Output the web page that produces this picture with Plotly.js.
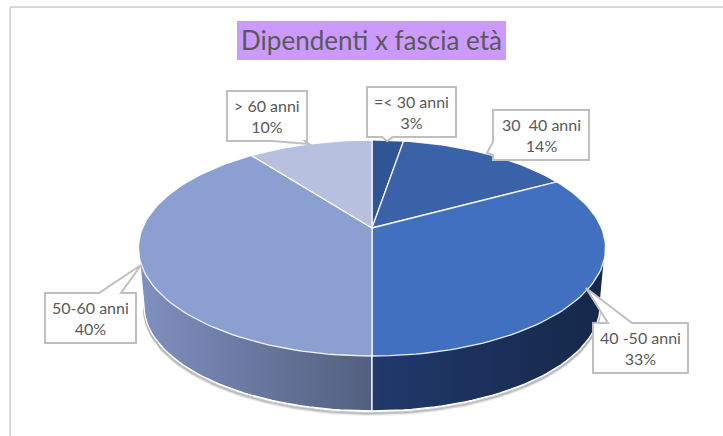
<!DOCTYPE html>
<html>
<head>
<meta charset="utf-8">
<script src="https://cdn.plot.ly/plotly-3.0.1.min.js"></script>
<style>html,body{margin:0;padding:0;background:#fff;overflow:hidden}</style>
</head>
<body>
<div id="chart" style="width:723px;height:436px"></div>
<script>
// ---- chart data ----
var categories = ['=&lt; 30 anni', '30\u00a0\u00a040 anni', '40 -50 anni', '50-60 anni', '&gt; 60 anni'];
var values = [2.6, 14.4, 33, 39.7, 10.3];
var percentLabels = ['3%', '14%', '33%', '40%', '10%'];
var sliceColors = ['#2f5597', '#3a62a9', '#4270c0', '#8c9fd1', '#b7c1df'];
var titleText = 'Dipendenti x fascia età';

// ---- pie projection (tilted disc seen in perspective) ----
var apexX = 372, apexY = 228, projA = 229.5, projB = 104.3, projK = -0.1852;
function project(angle) {
  var u = Math.sin(angle), v = -Math.cos(angle), d = 1 + projK * v;
  return [apexX + projA * u / d, apexY + projB * v / d];
}
var total = values.reduce(function (a, b) { return a + b; }, 0);
function angleAt(share) { return 2 * Math.PI * share / total; }

// lower rim of the disc
var rimX = 372, rimY = 306, rimRx = 228, rimRy = 105;
function rim(angle, dy) {
  return [rimX + rimRx * Math.sin(angle), rimY + (dy || 0) - rimRy * Math.cos(angle)];
}
function trace(xs, ys, extra) {
  var t = {x: xs, y: ys, mode: 'lines', type: 'scatter', hoverinfo: 'skip', showlegend: false};
  for (var k in extra) t[k] = extra[k];
  return t;
}
var traces = [];

// soft shadow under the wall
[[4, 0.10], [3, 0.18], [2, 0.30]].forEach(function (s) {
  var xs = [], ys = [];
  for (var a = 90; a <= 270; a += 2) {
    var p = rim(a * Math.PI / 180, s[0]);
    xs.push(p[0]); ys.push(p[1]);
  }
  traces.push(trace(xs, ys, {line: {color: 'rgba(90,90,90,' + s[1] + ')', width: 2}}));
});

// visible walls: the two slices that meet at the front
var frontShare = values[0] + values[1] + values[2];
function wall(side, gradient) {
  var xs = [apexX, apexX + side * 233.5], ys = [248, 248], p;
  for (var a = 90; a >= 0; a -= 2) {
    p = rim((side > 0 ? 180 - a : 180 + a) * Math.PI / 180);
    xs.push(p[0]); ys.push(p[1]);
  }
  xs.push(project(angleAt(frontShare))[0]); ys.push(248);
  return trace(xs, ys, {
    fill: 'toself', fillcolor: gradient[0],
    fillgradient: {type: 'horizontal', colorscale: [[0, gradient[0]], [1, gradient[1]]]},
    line: {color: '#ffffff', width: 1.3}
  });
}
traces.push(wall(-1, ['#8090c0', '#525f7e']));
traces.push(wall(1, ['#21396b', '#152849']));

// top faces, one per value
var cumulative = 0;
values.forEach(function (val, i) {
  var xs = [apexX], ys = [apexY];
  var steps = Math.max(8, Math.round(val * 2));
  for (var s = 0; s <= steps; s++) {
    var p = project(angleAt(cumulative + val * s / steps));
    xs.push(p[0]); ys.push(p[1]);
  }
  xs.push(apexX); ys.push(apexY);
  traces.push(trace(xs, ys, {
    fill: 'toself', fillcolor: sliceColors[i],
    line: {color: 'rgba(255,255,255,0.9)', width: 1.3}
  }));
  cumulative += val;
});

// ---- callouts ----
var callouts = [
  {box: [367, 87, 456, 137], wedge: 'bottom', a: 382, b: 393, tip: [387, 141]},
  {box: [493, 110, 589, 160], wedge: 'left', a: 142, b: 155, tip: [487, 153]},
  {box: [593, 323, 688, 373], wedge: 'top', a: 608, b: 632, tip: [586, 288]},
  {box: [45, 293, 136, 343], wedge: 'top', a: 99, b: 121, tip: [141, 265]},
  {box: [227, 91, 307, 141], wedge: 'bottom', a: 272, b: 305, tip: [309, 144]}
];
function calloutPath(c) {
  var l = c.box[0], t = c.box[1], r = c.box[2], b = c.box[3], pts;
  var tp = c.tip.join(',');
  if (c.wedge === 'top') {
    pts = [l + ',' + t, c.a + ',' + t, tp, c.b + ',' + t, r + ',' + t, r + ',' + b, l + ',' + b];
  } else if (c.wedge === 'bottom') {
    pts = [l + ',' + t, r + ',' + t, r + ',' + b, c.b + ',' + b, tp, c.a + ',' + b, l + ',' + b];
  } else {
    pts = [l + ',' + t, r + ',' + t, r + ',' + b, l + ',' + b, l + ',' + c.b, tp, l + ',' + c.a];
  }
  return 'M' + pts.join(' L') + ' Z';
}
var shapes = [
  {type: 'line', xref: 'x', yref: 'y', x0: 10, x1: 10, y0: 7, y1: 436, layer: 'below', line: {color: '#d9d9d9', width: 2}},
  {type: 'line', xref: 'x', yref: 'y', x0: 10, x1: 723, y0: 7, y1: 7, layer: 'below', line: {color: '#d9d9d9', width: 2}},
  {type: 'rect', xref: 'x', yref: 'y', x0: 237, x1: 506, y0: 21, y1: 60, layer: 'below', fillcolor: '#cc99ff', line: {width: 0}}
];
var annotations = [];
callouts.forEach(function (c, i) {
  shapes.push({type: 'path', xref: 'x', yref: 'y', layer: 'above', path: calloutPath(c),
    fillcolor: '#ffffff', line: {color: '#bfbfbf', width: 2}});
  annotations.push({
    xref: 'x', yref: 'y', x: (c.box[0] + c.box[2]) / 2, y: (c.box[1] + c.box[3]) / 2,
    text: categories[i] + '<br>' + percentLabels[i], showarrow: false,
    font: {family: 'Lato, sans-serif', size: 16, color: '#595959'},
    align: 'center', xanchor: 'center', yanchor: 'middle'
  });
});

var layout = {
  width: 723, height: 436,
  margin: {l: 0, r: 0, t: 0, b: 0},
  paper_bgcolor: '#ffffff', plot_bgcolor: '#ffffff',
  showlegend: false,
  title: {
    text: titleText, xref: 'paper', yref: 'paper',
    x: 371.5 / 723, y: 1 - 41 / 436, xanchor: 'center', yanchor: 'middle',
    font: {family: 'Lato, sans-serif', size: 26, color: '#595959'}
  },
  xaxis: {range: [0, 723], visible: false, fixedrange: true},
  yaxis: {range: [436, 0], visible: false, fixedrange: true},
  shapes: shapes,
  annotations: annotations
};
Plotly.newPlot('chart', traces, layout, {displayModeBar: false, responsive: false});
</script>
</body>
</html>
